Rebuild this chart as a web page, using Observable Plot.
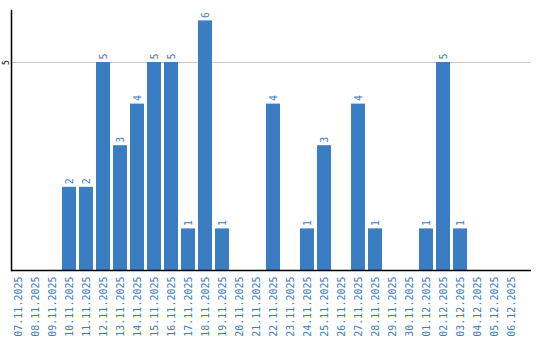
<!DOCTYPE html>
<html><head><meta charset="utf-8">
<script src="https://cdn.jsdelivr.net/npm/d3@7"></script>
<script src="https://cdn.jsdelivr.net/npm/@observablehq/plot@0.6"></script>
<style>body{margin:0;background:#fff}</style>
</head><body><div id="chart"></div>
<script>
const dates = ["07.11.2025","08.11.2025","09.11.2025","10.11.2025","11.11.2025","12.11.2025","13.11.2025","14.11.2025","15.11.2025","16.11.2025","17.11.2025","18.11.2025","19.11.2025","20.11.2025","21.11.2025","22.11.2025","23.11.2025","24.11.2025","25.11.2025","26.11.2025","27.11.2025","28.11.2025","29.11.2025","30.11.2025","01.12.2025","02.12.2025","03.12.2025","04.12.2025","05.12.2025","06.12.2025"];
const counts = [0,0,0,2,2,5,3,4,5,5,1,6,1,0,0,4,0,1,3,0,4,1,0,0,1,5,1,0,0,0];
const yTicks = [5];
const data = dates.map((d,i)=>({date:d, value:counts[i]}));
const blue = "#3b7dc3";
const chart = Plot.plot({
  width: 540, height: 340,
  marginLeft: 11, marginRight: 9, marginTop: 10, marginBottom: 70,
  style: {fontFamily: "DejaVu Sans Mono, monospace", background: "#fff"},
  x: {type: "band", domain: dates, paddingInner: 0.18, paddingOuter: 0.09, insetRight: 11.5, insetLeft: -1.5},
  y: {domain: [0, 6.25], label: null},
  marks: [
    Plot.gridY(yTicks, {stroke: "#c8c8c8", strokeOpacity: 1}),
    Plot.barY(data, {x: "date", y: "value", fill: blue}),
    Plot.text(data.filter(d=>d.value>0), {x: "date", y: "value", text: d=>String(d.value), rotate: -90, textAnchor: "start", lineAnchor: "middle", dy: -3, fill: blue, fontSize: 10}),
    Plot.axisY(yTicks, {tickSize: 0, tickPadding: 5, rotate: -90, textAnchor: "middle", lineAnchor: "middle", fontSize: 8, fill: "#000", label: null}),
    Plot.axisX({tickSize: 0, tickPadding: 6, rotate: -90, textAnchor: "end", lineAnchor: "middle", fontSize: 10, fill: blue, label: null}),
    Plot.ruleY([0], {stroke: "#000", strokeWidth: 1.5}),
    Plot.frame({anchor: "left", stroke: "#000", strokeWidth: 1.5})
  ]
});
document.getElementById("chart").appendChild(chart);
</script></body></html>
